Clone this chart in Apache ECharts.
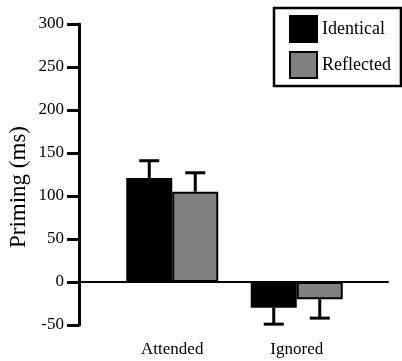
<!DOCTYPE html>
<html>
<head>
<meta charset="utf-8">
<script src="https://cdn.jsdelivr.net/npm/echarts@6/dist/echarts.min.js"></script>
<style>html,body{margin:0;padding:0;background:#fff;}#c{width:402px;height:361px;}</style>
</head>
<body>
<div id="c"></div>
<script>
var categories = ['Attended', 'Ignored'];
var identical = [121, -30];
var reflected = [105, -20];
var identicalErr = [20, 19];
var reflectedErr = [22, 22];
var yTicksMin = -50, yTicksMax = 300, yTickStep = 50;

var FONT = 'Liberation Serif';
var chart = echarts.init(document.getElementById('c'));

function errSeries(name, vals, errs, off) {
  return {
    type: 'custom', name: name + ' err', xAxisIndex: 1, yAxisIndex: 1, z: 5,
    data: vals.map(function (v, i) { return [i, v, errs[i]]; }),
    renderItem: function (params, api) {
      var i = api.value(0), v = api.value(1), e = api.value(2);
      var end = v >= 0 ? v + e : v - e;
      var p0 = api.coord([i, v]);
      var p1 = api.coord([i, end]);
      var x = p0[0] + off;
      var st = { stroke: '#000', lineWidth: 3 };
      return { type: 'group', children: [
        { type: 'line', shape: { x1: x, y1: p0[1], x2: x, y2: p1[1] }, style: st },
        { type: 'line', shape: { x1: x - 10, y1: p1[1], x2: x + 10, y2: p1[1] }, style: st }
      ]};
    }
  };
}

chart.setOption({
  animation: false,
  textStyle: { fontFamily: FONT },
  grid: [
    { left: 79, right: 14, top: 24, bottom: 36, outerBoundsMode: 'none', containLabel: false },
    { left: 110, width: 249, top: 24, bottom: 36, outerBoundsMode: 'none', containLabel: false }
  ],
  legend: {
    data: ['Identical', 'Reflected'], orient: 'vertical', left: 274, top: 8,
    itemWidth: 27, itemHeight: 26, itemGap: 8, icon: 'rect',
    borderColor: '#000', borderWidth: 2.5, padding: [7, 10, 7, 15],
    textStyle: { fontFamily: FONT, fontSize: 18, color: '#000' }
  },
  xAxis: [
    { type: 'value', gridIndex: 0, min: 0, max: 1, show: true,
      axisLine: { show: true, onZero: true, lineStyle: { color: '#000', width: 2 } },
      axisTick: { show: false }, axisLabel: { show: false }, splitLine: { show: false } },
    { type: 'category', gridIndex: 1, data: categories, position: 'bottom',
      axisLine: { show: false, onZero: false }, axisTick: { show: false },
      axisLabel: { margin: 16, fontFamily: FONT, fontSize: 17, color: '#000' } }
  ],
  yAxis: [
    { type: 'value', gridIndex: 0, min: yTicksMin, max: yTicksMax, interval: yTickStep,
      name: 'Priming (ms)', nameLocation: 'middle', nameGap: 49, nameMoveOverlap: false,
      nameTextStyle: { fontFamily: FONT, fontSize: 23, color: '#000', padding: [0, 25, 0, 0] },
      axisLine: { show: true, lineStyle: { color: '#000', width: 3 } },
      axisTick: { show: true, length: 12, lineStyle: { color: '#000', width: 3 } },
      axisLabel: { margin: 15, fontFamily: FONT, fontSize: 17, color: '#000' },
      splitLine: { show: false } },
    { type: 'value', gridIndex: 1, min: yTicksMin, max: yTicksMax, interval: yTickStep, show: false,
      splitLine: { show: false } }
  ],
  series: [
    { type: 'bar', name: 'Identical', xAxisIndex: 1, yAxisIndex: 1, data: identical,
      barWidth: 46, barGap: 0,
      itemStyle: { color: '#000', borderColor: '#000', borderWidth: 2 } },
    { type: 'bar', name: 'Reflected', xAxisIndex: 1, yAxisIndex: 1, data: reflected,
      barWidth: 46, barGap: 0,
      itemStyle: { color: '#808080', borderColor: '#000', borderWidth: 2 } },
    errSeries('Identical', identical, identicalErr, -23),
    errSeries('Reflected', reflected, reflectedErr, 23)
  ]
});
</script>
</body>
</html>
